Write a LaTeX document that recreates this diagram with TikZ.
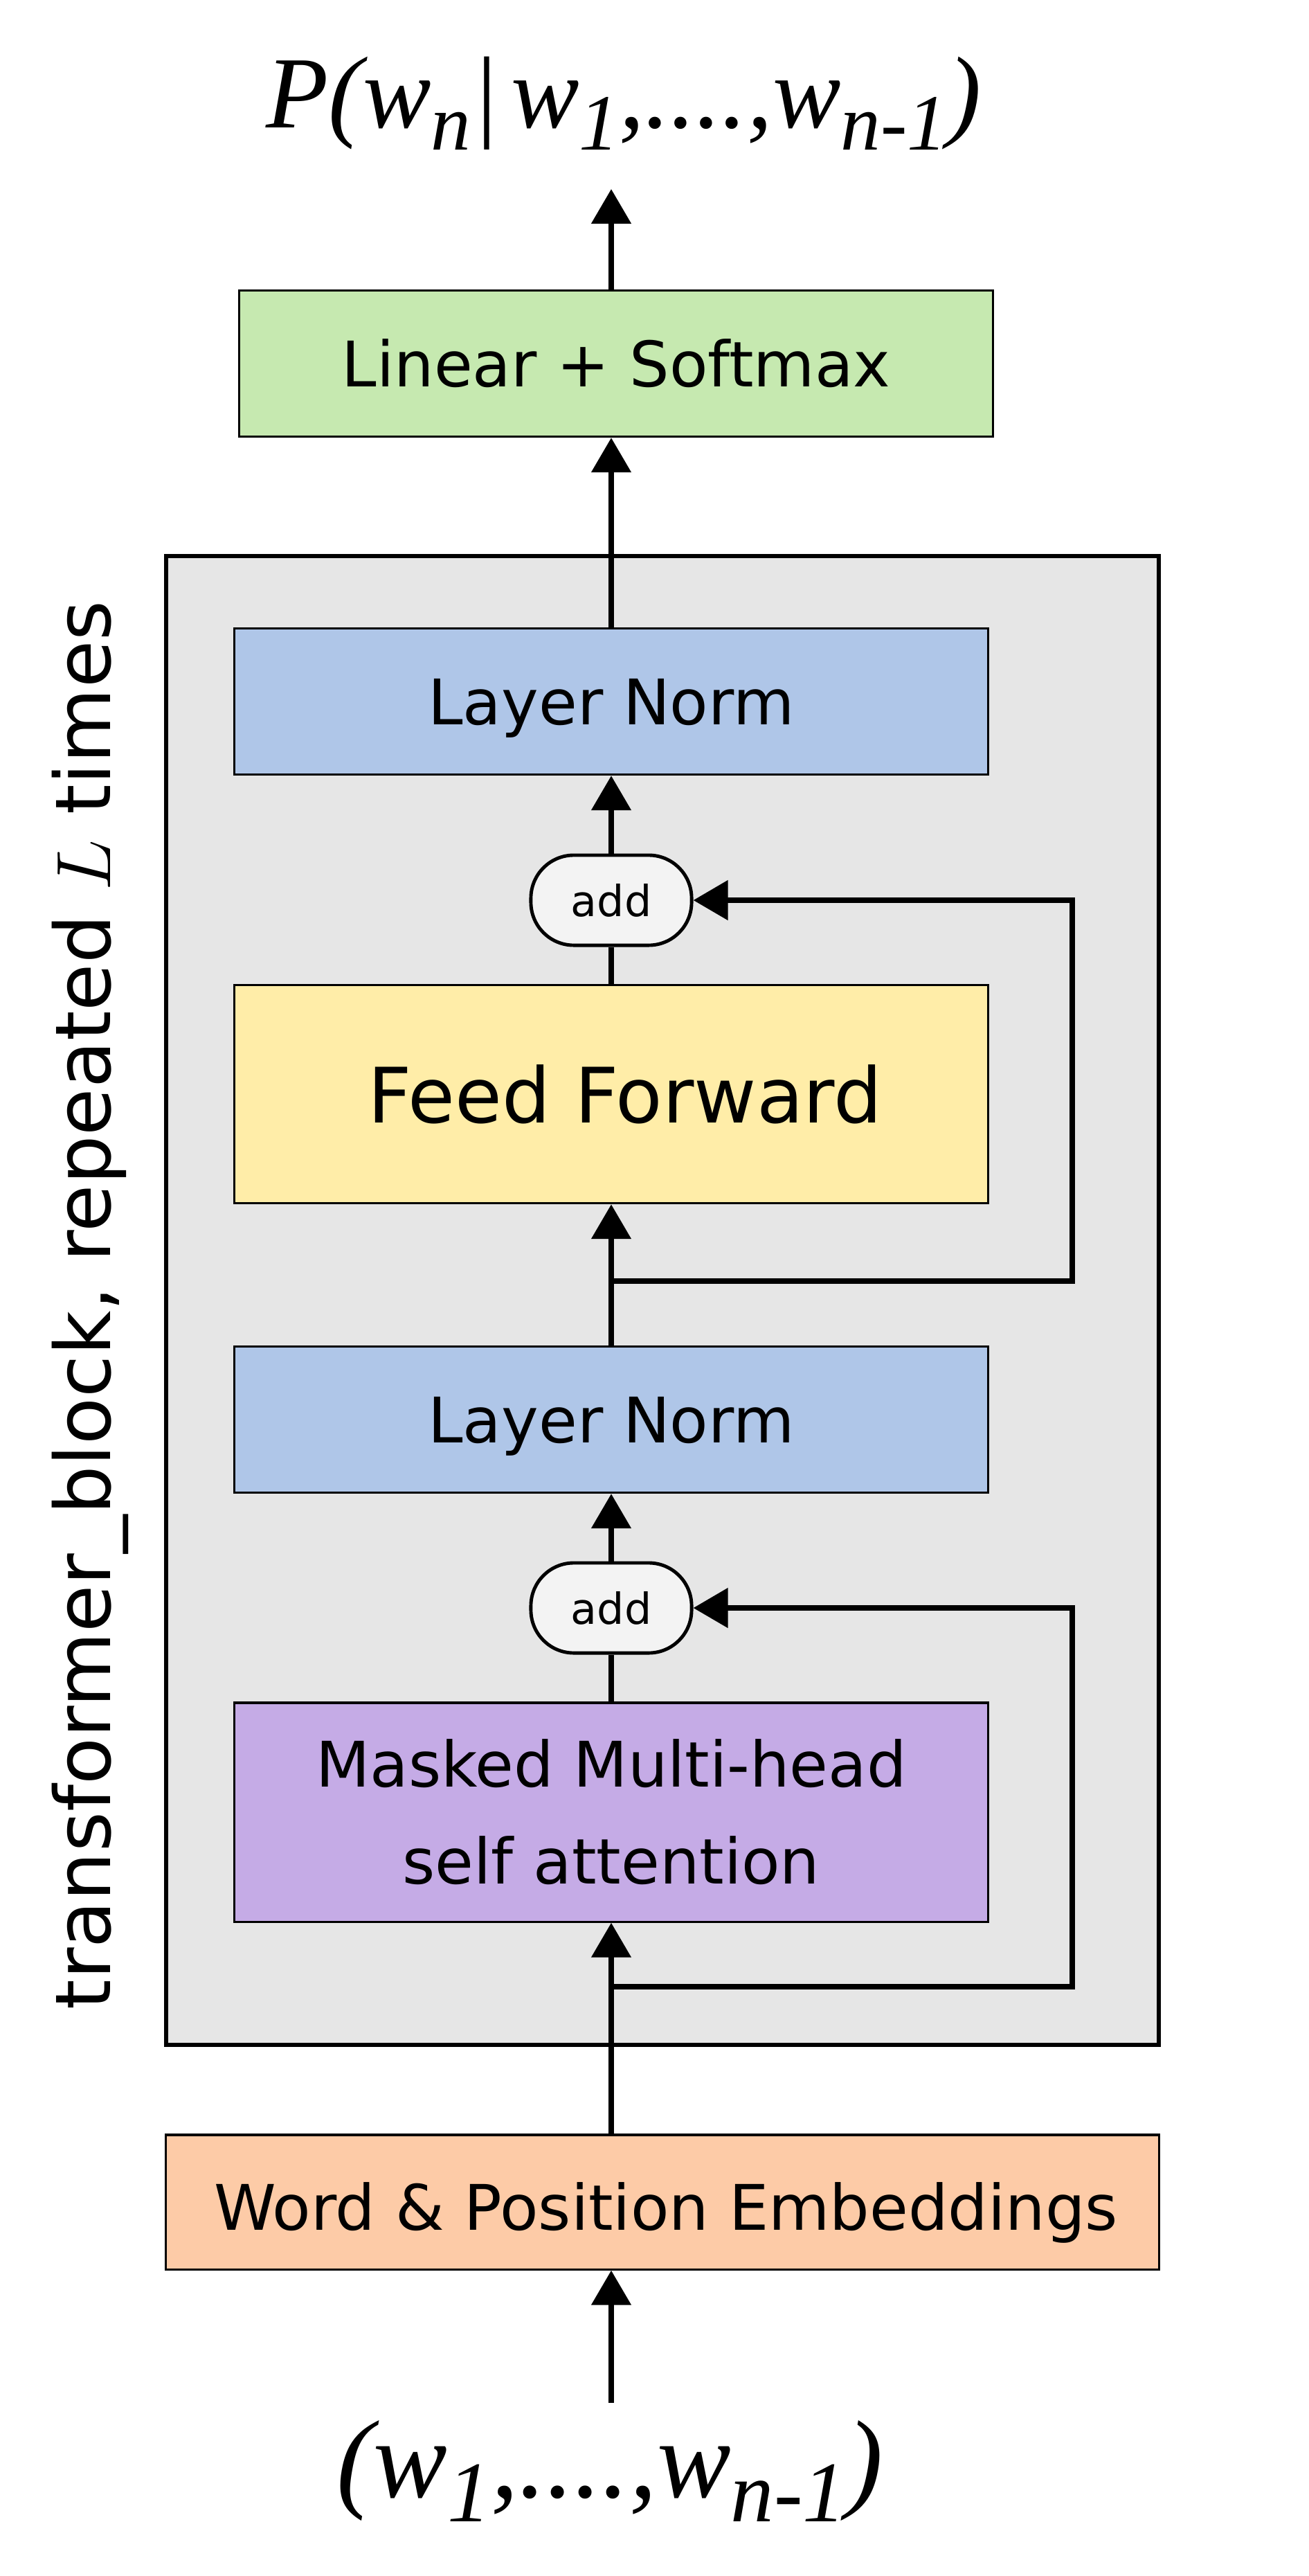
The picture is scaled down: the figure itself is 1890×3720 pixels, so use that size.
\RequirePackage{fix-cm}
\documentclass[tikz,border=0pt]{standalone}
\usepackage{fontspec}
\setmainfont{DejaVu Sans}
\newfontfamily\fmlfont{Liberation Serif}
\usetikzlibrary{arrows.meta,calc}
\definecolor{cgreen}{RGB}{198,233,176}
\definecolor{cblue}{RGB}{175,198,232}
\definecolor{cyellow}{RGB}{255,237,168}
\definecolor{cpurple}{RGB}{197,171,230}
\definecolor{corange}{RGB}{253,203,167}
\definecolor{cgray}{RGB}{230,230,230}
\definecolor{cadd}{RGB}{243,243,243}
\newcommand{\sbs}[1]{\raisebox{-0.22em}{\fontsize{0.78\dimexpr\fontdimen6\font\relax}{36}\selectfont #1}}
\tikzset{
  box/.style={draw=black, line width=0.9pt, minimum width=10.89cm, inner sep=0pt, font=\fontsize{25.8}{39.8}\selectfont, align=center},
  addnode/.style={draw=black, line width=1.4pt, fill=cadd, rounded corners=0.62cm, minimum width=2.32cm, minimum height=1.3cm, inner sep=0pt, font=\fontsize{17.6}{20}\selectfont},
  arr/.style={line width=2.3pt, -{Triangle[length=0.5cm,width=0.56cm]}},
  ln/.style={line width=2.3pt},
  formula/.style={anchor=base, inner sep=0pt}
}
\begin{document}
\begin{tikzpicture}[x=0.01cm, y=-0.01cm]
\useasboundingbox (0,0) rectangle (1890,3720);
% transformer block background
\node[draw=black, line width=1.7pt, fill=cgray, minimum width=14.34cm, minimum height=21.48cm, inner sep=0pt] (block) at (957,1878) {};
\node[rotate=90, font=\fontsize{31.6}{36}\selectfont, inner sep=0pt] (blocklabel) at (130,1885) {transformer\_block, repeated $L$ times};
% boxes
\node[box, fill=cgreen, minimum height=2.11cm] (lin) at (890,525) {Linear + Softmax};
\node[box, fill=cblue, minimum height=2.11cm, text depth=0pt] (ln1) at (883,1013) {Layer Norm};
\node[addnode] (add1) at (883,1300) {add};
\node[box, fill=cyellow, minimum height=3.15cm, font=\fontsize{31.4}{36}\selectfont] (ff) at (883,1580) {\hspace{0.4cm}Feed Forward};
\node[box, fill=cblue, minimum height=2.11cm, text depth=0pt] (ln2) at (883,2050) {Layer Norm};
\node[addnode] (add2) at (883,2322) {add};
\node[box, fill=cpurple, minimum height=3.16cm] (mha) at (883,2617) {Masked Multi-head\\self attention};
\node[box, fill=corange, minimum width=14.34cm, minimum height=1.94cm, text depth=0pt, text height=23pt] (emb) at (957,3180) {\hspace{0.1cm}Word \& Position Embeddings};
% formulas
\node[formula, font=\fmlfont\itshape\fontsize{42}{46}\selectfont] (ptop) at (901,184) {P(w\sbs{n}|\hspace{0.12em}w\sbs{1},....,w\sbs{n-1})};
\node[formula, font=\fmlfont\itshape\fontsize{45.5}{50}\selectfont] (pbot) at (881,3606) {(w\sbs{1},....,w\sbs{n-1})};
\coordinate (toptip) at (883,273);
\coordinate (bottail) at (883,3470);
\coordinate (j1) at (883,1850);
\coordinate (j2) at (883,2869);
% connectors
\draw[arr] (bottail) -- (bottail |- emb.south);
\draw[arr] (mha.south |- emb.north) -- (mha.south);
\draw[ln] (mha.north) -- (add2.south);
\draw[arr] (add2.north) -- (ln2.south);
\draw[arr] (ln2.north) -- (ff.south);
\draw[ln] (ff.north) -- (add1.south);
\draw[arr] (add1.north) -- (ln1.south);
\draw[arr] (ln1.north) -- (ln1.north |- lin.south);
\draw[arr] (ln1.north |- lin.north) -- (toptip);
\draw[arr] (j1) -- ++(666,0) |- (add1.east);
\draw[arr] (j2) -- ++(666,0) |- (add2.east);
\end{tikzpicture}
\end{document}
